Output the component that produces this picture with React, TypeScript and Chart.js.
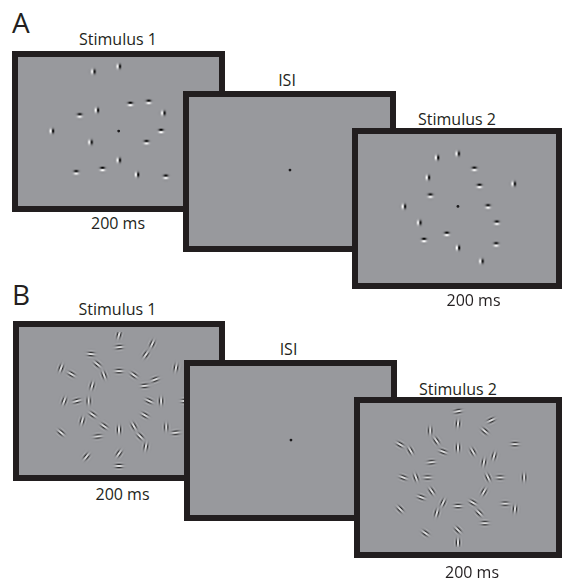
import { useEffect, useRef } from 'react';
import {
  Chart,
  ScatterController,
  LineElement,
  PointElement,
  LinearScale,
} from 'chart.js';

Chart.register(ScatterController, LineElement, PointElement, LinearScale);

// element positions, px from the centre of each display (y up)
const A1_X = [-26.5, 0.2, 12.5, 31.8, -22.8, -40.8, 47.2, -70.2, 44.8, -29.5, 29.5, 0.2, -16.8, -44.5, 19.5, 49.8];
const A1_Y = [64.2, 69.8, 29.5, 31.8, 22.8, 17.2, 19.8, 0.5, 0.5, -11.5, -11.5, -30.8, -40.2, -43.8, -46.2, -48.5];
const A1_ORI = [0, 0, -90, -90, 0, -90, 0, 0, -90, 0, -90, 0, -90, -90, 0, -90];

const A2_X = [-21, 0.7, 18.3, -30.7, 23.7, 59.7, -28, -56, 32.7, -39.7, 42, -10.7, -34.7, 41.3, 1, 25.7];
const A2_Y = [54.5, 58.8, 42.5, 33.2, 24.2, 26.5, 13.8, 2.2, 2.2, -15.2, -15.2, -27.2, -33.8, -38.5, -42.2, -56.5];
const A2_ORI = [0, 0, -90, 0, -90, 0, -90, 0, -90, 0, -90, -90, -90, -90, 0, 0];

// the grating displays share one set of positions
const B_X = [0, 0, 35, 28.3, -29.3, -61, -50, -22.7, -15.7, 0, 15.7, 38, 27.3, 60, -28.3, -57.7, -44.3, -32, 31.7, 44.3, 69.7, -27.7, -38.7, 27.3, -15.7, -22.3, 0, 15.7, 22.3, 28.3, 49.7, 60, -61, -34.3, 0, 0];
const B_Y = [71, 57.7, 61.3, 49.7, 50.3, 35.3, 28.7, 39.3, 27.7, 32, 27.7, 23, 16.3, 35.7, 16.3, 0, 0, 0, 0, 0, 0, -14.7, -21.3, -15.3, -27, -38, -30.7, -27, -38, -49, -28, -34, -34, -59.7, -56.3, -69.7];
const B1_ORI = [15, 85, 25, 35, 95, 20, -60, -50, -20, 90, -55, 70, 85, 10, 15, 20, 75, 0, -65, 0, 90, -55, 15, -60, -55, 85, 0, -30, -45, 10, 0, 85, -50, 40, 35, 90];
const B2_ORI = [80, 5, 65, -50, 0, -60, -30, -35, 110, 0, -30, 15, 10, 90, 85, 110, -20, 90, -25, 90, 0, -35, 110, 30, 25, 15, 90, -60, -45, 90, 90, 5, -45, -55, -45, 0];

const FIX_A1: [number, number] = [0.2, 0.5];
const FIX_ISI_A: [number, number] = [0.5, 1.5];
const FIX_A2: [number, number] = [1, 2.2];
const FIX_ISI_B: [number, number] = [0.5, 0.5];

const ROW_LETTERS = ['A', 'B'];
const TITLES = ['Stimulus 1', 'ISI', 'Stimulus 2'];
const DURATION = '200 ms';

const BORDER = 6;
const FRAME = '#221e1f';
const PANEL_BG = 'rgb(152,153,157)';
const INK = '#231f20';

type Patch = 'edge' | 'grating';

function makePatch(size: number, fn: (x: number, y: number) => number) {
  const c = document.createElement('canvas');
  c.width = size;
  c.height = size;
  const ctx = c.getContext('2d')!;
  const img = ctx.createImageData(size, size);
  const h = size / 2;
  for (let j = 0; j < size; j++) {
    for (let i = 0; i < size; i++) {
      const v = fn(i + 0.5 - h, j + 0.5 - h);
      const k = (j * size + i) * 4;
      const c8 = v >= 0 ? 255 : 0;
      img.data[k] = c8;
      img.data[k + 1] = c8;
      img.data[k + 2] = c8;
      img.data[k + 3] = Math.min(255, Math.abs(v) * 255);
    }
  }
  ctx.putImageData(img, 0, 0);
  return c;
}

// white on the left, dark on the right
const edgePatch = () =>
  makePatch(12, (x, y) => -1.6 * Math.sin((2 * Math.PI * x) / 6.4) * Math.exp(-(x * x + y * y) / (2 * 1.6 * 1.6)));

// vertical bars: light centre, two dark stripes
const gratingPatch = () =>
  makePatch(16, (x, y) =>
    1.15 * Math.cos((2 * Math.PI * x) / 3.6) * Math.exp(-(x * x) / (2 * 1.9 * 1.9) - (y * y) / (2 * 2.4 * 2.4))
  );

function Panel({
  left,
  top,
  width,
  height,
  xs,
  ys,
  angles,
  patch,
  fix,
}: {
  left: number;
  top: number;
  width: number;
  height: number;
  xs: number[];
  ys: number[];
  angles: number[];
  patch: Patch;
  fix?: [number, number];
}) {
  const canvasRef = useRef<HTMLCanvasElement>(null);
  const iw = width - 2 * BORDER;
  const ih = height - 2 * BORDER;

  useEffect(() => {
    const canvas = canvasRef.current;
    if (!canvas) return;
    const sprite = patch === 'edge' ? edgePatch() : gratingPatch();
    const datasets: any[] = [];
    if (xs.length) {
      datasets.push({
        data: xs.map((x, i) => ({ x, y: ys[i] })),
        pointStyle: sprite,
        pointRadius: 4,
        pointRotation: (c: any) => angles[c.dataIndex] ?? 0,
      });
    }
    if (fix) {
      datasets.push({
        data: [{ x: fix[0], y: fix[1] }],
        pointStyle: 'circle',
        pointRadius: 1.4,
        pointBackgroundColor: '#1b1a1c',
        pointBorderWidth: 0,
      });
    }
    const chart = new Chart(canvas, {
      type: 'scatter',
      data: { datasets },
      options: {
        animation: false,
        responsive: false,
        events: [],
        layout: { padding: 0 },
        plugins: { legend: { display: false }, tooltip: { enabled: false } },
        scales: {
          x: { type: 'linear', display: false, min: -iw / 2, max: iw / 2 },
          y: { type: 'linear', display: false, min: -ih / 2, max: ih / 2 },
        },
      },
    });
    return () => chart.destroy();
  }, [xs, ys, angles, patch, fix, iw, ih]);

  return (
    <div
      style={{
        position: 'absolute',
        left,
        top,
        width,
        height,
        boxSizing: 'border-box',
        border: `${BORDER}px solid ${FRAME}`,
        background: PANEL_BG,
      }}
    >
      <canvas ref={canvasRef} width={iw} height={ih} style={{ display: 'block', width: iw, height: ih }} />
    </div>
  );
}

function Label({ text, cx, top, size = 16 }: { text: string; cx: number; top: number; size?: number }) {
  return (
    <div
      style={{
        position: 'absolute',
        left: cx,
        top,
        transform: 'translateX(-50%)',
        fontSize: size,
        lineHeight: `${size}px`,
        whiteSpace: 'nowrap',
        color: INK,
      }}
    >
      {text}
    </div>
  );
}

export default function App() {
  return (
    <div
      style={{
        position: 'fixed',
        left: 0,
        top: 0,
        width: 562,
        height: 582,
        overflow: 'hidden',
        background: '#fff',
        fontFamily: '"Open Sans", "Noto Sans", sans-serif',
      }}
    >
      <div style={{ position: 'absolute', left: 12, top: 8, fontSize: 28, lineHeight: '28px', color: INK }}>
        {ROW_LETTERS[0]}
      </div>
      <Label text={TITLES[0]} cx={118} top={31} />
      <Label text={TITLES[1]} cx={287} top={72} />
      <Label text={TITLES[2]} cx={457} top={110.5} />
      <Panel left={12} top={51} width={213} height={161} xs={A1_X} ys={A1_Y} angles={A1_ORI} patch="edge" fix={FIX_A1} />
      <Label text={DURATION} cx={118} top={214.5} />
      <Panel left={183} top={91} width={213} height={161} xs={[]} ys={[]} angles={[]} patch="edge" fix={FIX_ISI_A} />
      <Panel left={352} top={128} width={210} height={161} xs={A2_X} ys={A2_Y} angles={A2_ORI} patch="edge" fix={FIX_A2} />
      <Label text={DURATION} cx={473.5} top={291.5} />

      <div style={{ position: 'absolute', left: 12, top: 280, fontSize: 28, lineHeight: '28px', color: INK }}>
        {ROW_LETTERS[1]}
      </div>
      <Label text={TITLES[0]} cx={117.5} top={300.5} />
      <Label text={TITLES[1]} cx={288.5} top={340.5} />
      <Label text={TITLES[2]} cx={458} top={380.5} />
      <Panel left={13} top={321} width={212} height={160} xs={B_X} ys={B_Y} angles={B1_ORI} patch="grating" />
      <Label text={DURATION} cx={122.5} top={485.5} />
      <Panel left={184} top={360} width={213} height={161} xs={[]} ys={[]} angles={[]} patch="grating" fix={FIX_ISI_B} />
      <Panel left={354} top={397} width={208} height={161} xs={B_X} ys={B_Y} angles={B2_ORI} patch="grating" />
      <Label text={DURATION} cx={472} top={564} />
    </div>
  );
}
